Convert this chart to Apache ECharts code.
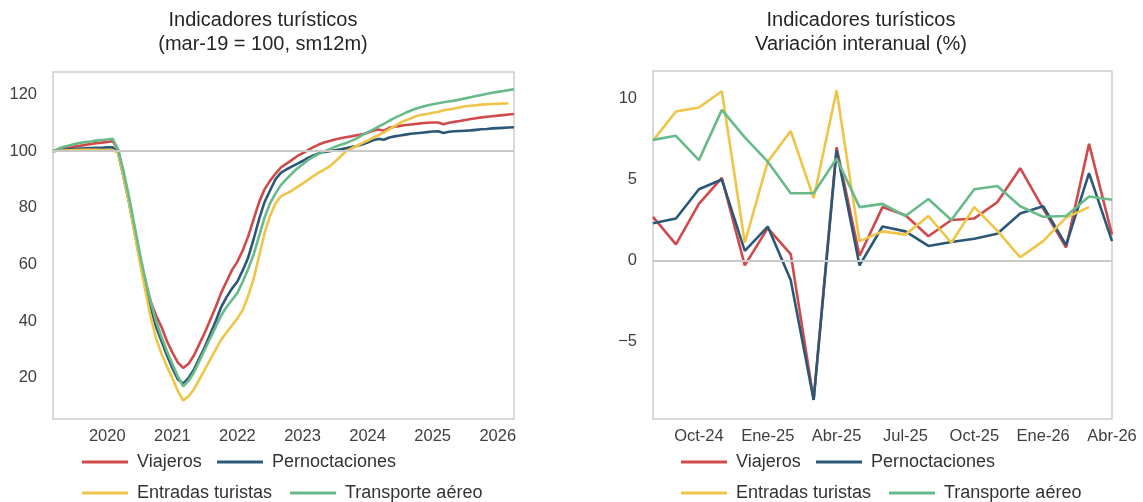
<!DOCTYPE html>
<html>
<head>
<meta charset="utf-8">
<script src="https://cdn.jsdelivr.net/npm/echarts@6.0.0/dist/echarts.min.js"></script>
<style>
html,body{margin:0;padding:0;background:#fff;}
#chart{width:1143px;height:502px;}
</style>
</head>
<body>
<div id="chart"></div>
<script>
// ---------- LEFT PANEL: index mar-19 = 100, 12-month moving sum (monthly, Mar-2019 .. Apr-2026)
const leftStart = [2019, 3];
const leftCount = 86;
const leftMonths = [];
for (let k = 0; k < leftCount; k++) {
  const m0 = leftStart[1] - 1 + k;
  const y = leftStart[0] + Math.floor(m0 / 12);
  const m = (m0 % 12) + 1;
  leftMonths.push(y + '-' + (m < 10 ? '0' + m : '' + m));
}

const idxViajeros = [
  100, 100.4, 100.8, 101.2, 101.6, 101.9, 102.2, 102.5, 102.8, 103.0, 103.2, 103.5,
  100.5, 92, 83, 73, 62.5, 54, 47, 42, 38, 33, 29, 25.5,
  23.5, 25, 28, 32, 36, 40.5, 45, 50, 54, 58, 61, 65,
  70, 76, 82, 86.5, 89.5, 92, 94.2, 95.5, 96.8, 98.2, 99.2, 100.3,
  101.4, 102.3, 103, 103.6, 104.1, 104.5, 104.9, 105.2, 105.6, 105.9, 106.5, 107.2,
  107.6, 107.2, 108.2, 108.6, 108.9, 109.2, 109.4, 109.6, 109.8, 110.0, 110.1, 110.1,
  109.5, 110.0, 110.3, 110.6, 111.0, 111.3, 111.6, 111.9, 112.1, 112.3, 112.5, 112.7, 112.9, 113.1
];
const idxPernoctaciones = [
  100, 100.2, 100.4, 100.6, 100.8, 100.9, 101, 101.1, 101.2, 101.2, 101.3, 101.3,
  99.5, 91, 82, 72, 62, 53, 45, 38, 33, 28, 23.5, 19.5,
  18, 20, 23, 27, 31, 35.5, 40, 45, 48.5, 51.5, 54, 58,
  62.5, 69, 76, 82, 86, 90, 92.3, 93.5, 94.5, 95.5, 96.5, 97.6,
  98.5, 99.2, 99.7, 100, 100.3, 100.6, 101, 101.4, 101.8, 102.3, 103, 103.8,
  104.3, 104, 104.8, 105.2, 105.5, 105.8, 106.1, 106.3, 106.5, 106.7, 106.9, 107,
  106.4, 106.8, 107, 107.1, 107.2, 107.3, 107.5, 107.7, 107.8, 108, 108.1, 108.2, 108.3, 108.4
];
const idxEntradas = [
  100, 100.1, 100.2, 100.3, 100.4, 100.5, 100.5, 100.5, 100.5, 100.4, 100.4, 100.3,
  99.5, 91, 82, 71.5, 61, 51, 41.5, 34, 28.5, 24, 20, 15.5,
  12, 13.5, 16, 19.5, 23, 26.5, 30, 33.5, 36, 38.5, 41, 44,
  49, 55, 63, 71, 77, 81.5, 84, 85, 86, 87.3, 88.5, 89.8,
  91.2, 92.4, 93.5, 94.6, 96.3, 98.1, 99.9, 100.9, 101.8, 102.8, 103.7, 104.7,
  105.6, 106.6, 107.7, 108.8, 110, 110.8, 111.6, 112.4, 112.8, 113.1, 113.5, 113.8,
  114.4, 114.7, 115, 115.4, 115.8, 116, 116.2, 116.4, 116.5, 116.6, 116.7, 116.8, 116.8, null
];
const idxTransporte = [
  100, 100.8, 101.5, 102, 102.5, 102.9, 103.2, 103.4, 103.7, 103.9, 104.1, 104.3,
  100.5, 93, 84, 74, 64, 55, 47, 40, 34.5, 29.5, 25, 20.5,
  17, 19, 22, 26, 30, 34, 38, 42, 45, 47.5, 50, 54,
  58.5, 63.5, 70, 76.5, 81.5, 85, 88, 90, 92, 93.8, 95.3, 96.8,
  98, 99, 99.9, 100.7, 101.5, 102.2, 102.8, 103.6, 104.5, 105.6, 106.6, 107.6,
  108.6, 109.6, 110.7, 111.7, 112.6, 113.5, 114.3, 115, 115.6, 116.1, 116.5, 116.9,
  117.2, 117.5, 117.8, 118.2, 118.6, 119, 119.4, 119.8, 120.2, 120.6, 120.9, 121.2, 121.5, 121.8
];

// ---------- RIGHT PANEL: year-on-year change (%), Ago-24 .. Abr-26
const rightMonths = ['Ago-24','Sep-24','Oct-24','Nov-24','Dic-24','Ene-25','Feb-25','Mar-25','Abr-25','May-25','Jun-25',
  'Jul-25','Ago-25','Sep-25','Oct-25','Nov-25','Dic-25','Ene-26','Feb-26','Mar-26','Abr-26'];
const yoyViajeros = [2.7, 1.0, 3.5, 5.1, -0.3, 2.0, 0.4, -8.6, 7.0, 0.3, 3.3, 2.8, 1.5, 2.5, 2.6, 3.6, 5.7, 3.2, 0.8, 7.2, 1.6];
const yoyPernoctaciones = [2.3, 2.6, 4.4, 5.0, 0.6, 2.1, -1.2, -8.6, 6.8, -0.3, 2.1, 1.8, 0.9, 1.15, 1.35, 1.65, 2.9, 3.35, 0.95, 5.4, 1.2];
const yoyEntradas = [7.4, 9.2, 9.45, 10.45, 1.1, 6.1, 8.0, 3.85, 10.5, 1.2, 1.8, 1.6, 2.75, 1.1, 3.3, 1.85, 0.2, 1.2, 2.65, 3.3, null];
const yoyTransporte = [7.45, 7.7, 6.2, 9.3, 7.6, 6.1, 4.15, 4.15, 6.3, 3.3, 3.5, 2.75, 3.8, 2.5, 4.4, 4.6, 3.35, 2.7, 2.75, 3.95, 3.75];

const seriesNames = ['Viajeros', 'Pernoctaciones', 'Entradas turistas', 'Transporte aéreo'];
const colors = ['#d04a4b', '#2c5878', '#efc447', '#68ba8b'];

const FONT = '"Liberation Sans", Arial, Helvetica, sans-serif';
const tickStyle = { fontFamily: FONT, fontSize: 16.5, color: '#404040' };

function lineSeries(name, color, data, axisIdx, refValue) {
  const s = {
    name: name, type: 'line', data: data,
    xAxisIndex: axisIdx, yAxisIndex: axisIdx,
    symbol: 'none', showSymbol: false, connectNulls: false,
    lineStyle: { color: color, width: 2.6 },
    itemStyle: { color: color },
    emphasis: { disabled: true },
    animation: false
  };
  if (refValue !== undefined) {
    s.markLine = {
      silent: true, symbol: 'none', animation: false,
      label: { show: false },
      lineStyle: { color: '#c9c9c9', width: 2, type: 'solid' },
      data: [{ yAxis: refValue }]
    };
  }
  return s;
}

function minusFmt(v) { return v < 0 ? '\u2212' + Math.abs(v) : String(v); }

const legendLefts = [[82, 217, 82, 290], [681, 816, 681, 889]];
const legendTops = [453, 453, 484, 484];
const legends = [];
for (let p = 0; p < 2; p++) {
  for (let k = 0; k < 4; k++) {
    legends.push({
      data: [seriesNames[k]], left: legendLefts[p][k], top: legendTops[k],
      padding: 0, itemWidth: 46, itemHeight: 3, icon: 'rect', selectedMode: false,
      textStyle: { fontFamily: FONT, fontSize: 18, color: '#333333', padding: [0, 0, 0, 4] }
    });
  }
}

const chart = echarts.init(document.getElementById('chart'), null, { renderer: 'canvas' });
chart.setOption({
  animation: false,
  backgroundColor: '#ffffff',
  graphic: [
    { type: 'text', x: 263, y: 20.5, style: { text: 'Indicadores turísticos', textAlign: 'center', textVerticalAlign: 'middle', verticalAlign: 'middle', font: '20px ' + FONT, fill: '#262626' } },
    { type: 'text', x: 263, y: 44.5, style: { text: '(mar-19 = 100, sm12m)', textAlign: 'center', textVerticalAlign: 'middle', verticalAlign: 'middle', font: '20px ' + FONT, fill: '#262626' } },
    { type: 'text', x: 861, y: 20.5, style: { text: 'Indicadores turísticos', textAlign: 'center', textVerticalAlign: 'middle', verticalAlign: 'middle', font: '20px ' + FONT, fill: '#262626' } },
    { type: 'text', x: 861, y: 44.5, style: { text: 'Variación interanual (%)', textAlign: 'center', textVerticalAlign: 'middle', verticalAlign: 'middle', font: '20px ' + FONT, fill: '#262626' } }
  ],
  legend: legends,
  grid: [
    { left: 53, top: 72, width: 461, height: 347, show: true, borderColor: '#cdcdcd', borderWidth: 1.5, containLabel: false },
    { left: 653, top: 71, width: 459, height: 348, show: true, borderColor: '#cdcdcd', borderWidth: 1.5, containLabel: false }
  ],
  xAxis: [
    {
      gridIndex: 0, type: 'category', data: leftMonths, boundaryGap: false,
      axisLine: { show: false }, axisTick: { show: false }, splitLine: { show: false },
      axisLabel: Object.assign({
        margin: 9,
        interval: function (i, v) { return v.slice(5) === '01'; },
        formatter: function (v) { return v.slice(0, 4); }
      }, tickStyle)
    },
    {
      gridIndex: 1, type: 'category', data: rightMonths, boundaryGap: false,
      axisLine: { show: false }, axisTick: { show: false }, splitLine: { show: false },
      axisLabel: Object.assign({
        margin: 9,
        interval: function (i) { return i % 3 === 2; }
      }, tickStyle)
    }
  ],
  yAxis: [
    {
      gridIndex: 0, type: 'value', min: 5.5, max: 127.9, splitNumber: 5,
      axisLine: { show: false }, axisTick: { show: false }, splitLine: { show: false },
      axisLabel: Object.assign({ margin: 16, showMinLabel: false, showMaxLabel: false, formatter: minusFmt }, tickStyle)
    },
    {
      gridIndex: 1, type: 'value', min: -9.78, max: 11.7, splitNumber: 5,
      axisLine: { show: false }, axisTick: { show: false }, splitLine: { show: false },
      axisLabel: Object.assign({ margin: 16, showMinLabel: false, showMaxLabel: false, formatter: minusFmt }, tickStyle)
    }
  ],
  series: [
    lineSeries(seriesNames[0], colors[0], idxViajeros, 0, 100),
    lineSeries(seriesNames[1], colors[1], idxPernoctaciones, 0),
    lineSeries(seriesNames[2], colors[2], idxEntradas, 0),
    lineSeries(seriesNames[3], colors[3], idxTransporte, 0),
    lineSeries(seriesNames[0], colors[0], yoyViajeros, 1, 0),
    lineSeries(seriesNames[1], colors[1], yoyPernoctaciones, 1),
    lineSeries(seriesNames[2], colors[2], yoyEntradas, 1),
    lineSeries(seriesNames[3], colors[3], yoyTransporte, 1)
  ]
});
</script>
</body>
</html>
